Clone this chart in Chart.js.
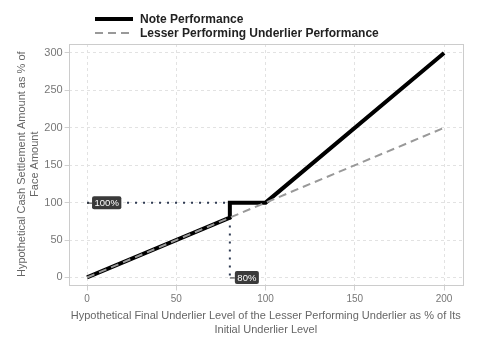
<!DOCTYPE html>
<html>
<head>
<meta charset="utf-8">
<script src="https://cdn.jsdelivr.net/npm/chart.js@4.4.0/dist/chart.umd.min.js"></script>
<style>
  body { margin:0; background:#fff; }
  #wrap { position:relative; width:480px; height:360px; }
  #legend { position:absolute; left:95px; top:12px; font:bold 12px "Liberation Sans", Arial, sans-serif; color:#222; }
  .item { height:14px; display:flex; align-items:center; }
  .swatch { width:38px; margin-right:7px; }
</style>
</head>
<body>
<div id="wrap">
  <canvas id="chart" width="480" height="360"></canvas>
  <div id="legend"></div>
</div>
<script>
//------------------------------------
// Data
//------------------------------------
const seriesNames = ["Note Performance", "Lesser Performing Underlier Performance"];

const noteX = [0, 80, 80, 100, 200];
const noteY = [0, 80, 100, 100, 300];

const underX = [0, 200];
const underY = [0, 200];

// reference guides: barrier level 80%, threshold 100%
const guideH = [[0, 100], [80, 100]];
const guideV = [[80, 80], [80, 0]];
const guideLabels = [
  { text: "100%", x: 0, y: 100 },
  { text: "80%", x: 80, y: 0 }
];

const xTicks = [0, 50, 100, 150, 200];
const yTicks = [0, 50, 100, 150, 200, 250, 300];

const toPts = (xs, ys) => xs.map((x, i) => ({ x: x, y: ys[i] }));
const pairPts = arr => arr.map(p => ({ x: p[0], y: p[1] }));

const font = "'Liberation Sans', Arial, sans-serif";

//------------------------------------
// Plugins
//------------------------------------
const frame = {
  id: "frame",
  beforeDatasetsDraw(chart) {
    const a = chart.chartArea, ctx = chart.ctx;
    ctx.save();
    ctx.strokeStyle = "#cccccc";
    ctx.lineWidth = 1;
    ctx.strokeRect(Math.round(a.left) + 0.5, Math.round(a.top) + 0.5,
      Math.round(a.right - a.left), Math.round(a.bottom - a.top));
    ctx.restore();
  }
};

const tags = {
  id: "tags",
  afterDatasetsDraw(chart) {
    const ctx = chart.ctx, xs = chart.scales.x, ys = chart.scales.y;
    ctx.save();
    ctx.font = "9.5px " + font;
    guideLabels.forEach(l => {
      const px = xs.getPixelForValue(l.x), py = ys.getPixelForValue(l.y);
      const w = ctx.measureText(l.text).width + 5;
      ctx.strokeStyle = "#333";
      ctx.lineWidth = 1;
      ctx.beginPath();
      ctx.moveTo(px, py + 0.5);
      ctx.lineTo(px + 5, py + 0.5);
      ctx.stroke();
      ctx.fillStyle = "#3a3a3a";
      ctx.beginPath();
      ctx.roundRect(px + 5, py - 6.5, w, 13, 2);
      ctx.fill();
      ctx.fillStyle = "#ffffff";
      ctx.textBaseline = "middle";
      ctx.fillText(l.text, px + 7.5, py + 0.5);
    });
    ctx.restore();
  }
};

//------------------------------------
// Chart
//------------------------------------
const chart = new Chart(document.getElementById("chart"), {
  type: "line",
  data: {
    datasets: [
      {
        label: seriesNames[1],
        data: toPts(underX, underY),
        borderColor: "#999999",
        borderWidth: 2,
        borderDash: [8, 5],
        pointRadius: 0,
        fill: false
      },
      {
        label: seriesNames[0],
        data: toPts(noteX, noteY),
        borderColor: "#000000",
        borderWidth: 4,
        pointRadius: 0,
        fill: false
      },
      {
        label: "guideH",
        data: pairPts(guideH),
        borderColor: "#2e3a52",
        borderWidth: 2,
        borderDash: [2, 6],
        pointRadius: 0
      },
      {
        label: "guideV",
        data: pairPts(guideV),
        borderColor: "#2e3a52",
        borderWidth: 2,
        borderDash: [2, 6],
        pointRadius: 0
      }
    ]
  },
  options: {
    responsive: false,
    animation: false,
    layout: { padding: { top: 44, right: 17, left: 12, bottom: 23 } },
    plugins: { legend: { display: false }, tooltip: { enabled: false } },
    scales: {
      x: {
        type: "linear",
        min: -10.3,
        max: 210.6,
        afterBuildTicks: ax => { ax.ticks = xTicks.map(v => ({ value: v })); },
        grid: { color: "#e2e2e2", drawTicks: true, tickLength: 6, tickColor: "#d0d0d0", tickBorderDash: [] },
        border: { display: false, dash: [3, 3] },
        ticks: { color: "#777", font: { family: font, size: 10 }, padding: 3 },
        title: {
          display: true,
          text: ["Hypothetical Final Underlier Level of the Lesser Performing Underlier as % of Its", "Initial Underlier Level"],
          color: "#666",
          font: { family: font, size: 11, lineHeight: 1.25 },
          padding: { top: 1, bottom: 0 }
        }
      },
      y: {
        type: "linear",
        min: -9.4,
        max: 312,
        afterBuildTicks: ax => { ax.ticks = yTicks.map(v => ({ value: v })); },
        grid: { color: "#e2e2e2", drawTicks: true, tickLength: 4, tickColor: "#d0d0d0", tickBorderDash: [] },
        border: { display: false, dash: [3, 3] },
        ticks: { color: "#777", font: { family: font, size: 11 }, padding: 2 },
        title: {
          display: true,
          text: ["Hypothetical Cash Settlement Amount as % of", "Face Amount"],
          color: "#666",
          font: { family: font, size: 11, lineHeight: 1.15 },
          padding: { top: 4, bottom: 1 }
        }
      }
    }
  },
  plugins: [frame, tags]
});

//------------------------------------
// Legend
//------------------------------------
const legend = document.getElementById("legend");
[1, 0].forEach(i => {
  const ds = chart.data.datasets[i];
  const row = document.createElement("div");
  row.className = "item";
  const sw = document.createElement("div");
  sw.className = "swatch";
  if (ds.borderDash) {
    sw.style.height = "2px";
    sw.style.background = "repeating-linear-gradient(90deg, #999 0 8px, transparent 8px 13px)";
  } else {
    sw.style.height = "4px";
    sw.style.background = "#000";
  }
  const txt = document.createElement("span");
  txt.textContent = ds.label;
  row.appendChild(sw);
  row.appendChild(txt);
  legend.appendChild(row);
});
</script>
</body>
</html>
